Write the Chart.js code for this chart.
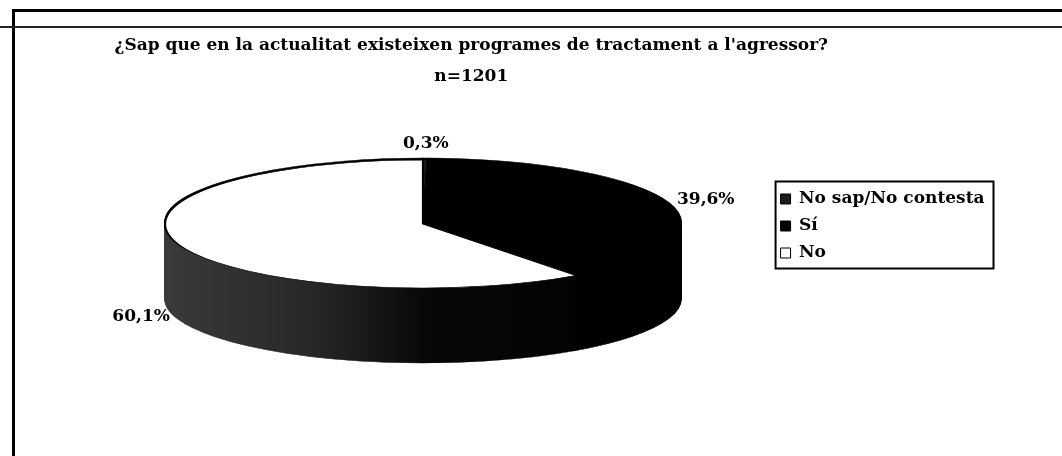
<!DOCTYPE html>
<html>
<head>
<meta charset="utf-8">
<script src="https://cdn.jsdelivr.net/npm/chart.js@4.4.0/dist/chart.umd.min.js"></script>
<style>
html, body { margin: 0; padding: 0; background: #fff; }
#wrap { position: relative; width: 1062px; height: 456px; overflow: hidden; background: #fff; }
#c { position: absolute; left: 0; top: 0; }
.frame { position: absolute; left: 12px; top: 9px; width: 1050px; height: 447px;
         border-left: 3px solid #000; border-top: 3px solid #000; box-sizing: border-box; }
.rule { position: absolute; left: 0; top: 26px; width: 1062px; height: 0; border-top: 2px solid #222; }
</style>
</head>
<body>
<div id="wrap">
  <canvas id="c" width="1062" height="456"></canvas>
  <div class="frame"></div>
  <div class="rule"></div>
</div>
<script>
// ---- data ----
const titleLines = ["¿Sap que en la actualitat existeixen programes de tractament a l'agressor?", "n=1201"];
const categories = ['No sap/No contesta', 'Sí', 'No'];
const percentages = [0.3, 39.6, 60.1];
const valueLabels = ['0,3%', '39,6%', '60,1%'];

// ---- styles ----
const faceColors = ['#1c1c1c', '#000000', '#ffffff'];
const sideColors = ['#111111', '#000000', null]; // null -> shaded gradient
// 3D projection layout (canvas px)
const PIE = { centerX: 423, centerY: 224, radiusX: 258, radiusY: 64, depth: 75 };
const SERIF = "'DejaVu Serif', 'Liberation Serif', serif";

function projection(chart) {
  const meta = chart.getDatasetMeta(0);
  const a0 = meta.data[0];
  const R = a0.outerRadius;
  return { meta, cx: a0.x, cy: a0.y, R, sx: PIE.radiusX / R, sy: PIE.radiusY / R,
           tx: PIE.centerX, ty: PIE.centerY };
}
function applyTransform(ctx, p, dy) {
  ctx.translate(p.tx, p.ty + dy);
  ctx.scale(p.sx, p.sy);
  ctx.translate(-p.cx, -p.cy);
}
function drawLayer(ctx, p, dy, colorFor) {
  ctx.save();
  applyTransform(ctx, p, dy);
  p.meta.data.forEach((arc, i) => {
    const c = colorFor(i);
    const tmp = Object.create(arc);
    tmp.options = Object.assign({}, arc.options, { backgroundColor: c, borderColor: c, borderWidth: 1 });
    tmp.draw(ctx);
  });
  ctx.restore();
}

const pie3d = {
  id: 'pie3d',
  beforeDatasetsDraw(chart) {
    const ctx = chart.ctx;
    const p = projection(chart);
    const grad = ctx.createLinearGradient(p.cx - p.R, 0, p.cx + p.R, 0);
    grad.addColorStop(0, '#3a3a3a');
    grad.addColorStop(0.3, '#262626');
    grad.addColorStop(0.5, '#080808');
    grad.addColorStop(1, '#000000');
    for (let k = PIE.depth; k >= 1; k--) {
      drawLayer(ctx, p, k, i => sideColors[i] || grad);
    }
    for (let k = -2; k <= -1; k++) {
      drawLayer(ctx, p, k, () => '#000000');
    }
    ctx.save();
    applyTransform(ctx, p, 0);
  },
  afterDatasetsDraw(chart) {
    const ctx = chart.ctx;
    ctx.restore();
    const p = projection(chart);
    ctx.save();
    ctx.font = 'bold 17px ' + SERIF;
    ctx.fillStyle = '#000';
    ctx.textAlign = 'center';
    ctx.textBaseline = 'middle';
    p.meta.data.forEach((arc, i) => {
      const mid = (arc.startAngle + arc.endAngle) / 2;
      const c = Math.cos(mid), s = Math.sin(mid);
      const x = p.tx + c * PIE.radiusX * 1.15;
      const y = p.ty + s * PIE.radiusY * 1.25 + (s > 0 ? PIE.depth * 0.9 : 0);
      ctx.fillText(valueLabels[i], x, y);
    });
    ctx.restore();
  },
  afterDraw(chart) {
    const hb = chart.legend && chart.legend.legendHitBoxes;
    if (!hb || !hb.length) return;
    let l = Infinity, t = Infinity, r = -Infinity, b = -Infinity;
    hb.forEach(h => { l = Math.min(l, h.left); t = Math.min(t, h.top);
      r = Math.max(r, h.left + h.width); b = Math.max(b, h.top + h.height); });
    const ctx = chart.ctx;
    ctx.save();
    ctx.strokeStyle = '#000';
    ctx.lineWidth = 2;
    ctx.strokeRect(l - 5, t - 9, r - l + 14, b - t + 16);
    ctx.restore();
  }
};

new Chart(document.getElementById('c'), {
  type: 'pie',
  data: {
    labels: categories,
    datasets: [{
      data: percentages,
      backgroundColor: faceColors,
      borderColor: '#000',
      borderWidth: 1.5,
      clip: false
    }]
  },
  options: {
    responsive: false,
    animation: false,
    events: [],
    layout: { padding: { left: -52, right: 67.5, top: 0, bottom: 4 } },
    plugins: {
      title: {
        display: true,
        text: titleLines,
        fullSize: true,
        color: '#000',
        font: { family: SERIF, weight: 'bold', size: 17, lineHeight: 1.824 },
        padding: { top: 30.5, bottom: 10 }
      },
      legend: {
        display: true,
        position: 'right',
        align: 'center',
        labels: {
          boxWidth: 10,
          boxHeight: 10,
          padding: 10,
          color: '#000',
          font: { family: SERIF, weight: 'bold', size: 17 },
          generateLabels: () => categories.map((c, i) => ({
            text: c, fillStyle: faceColors[i], strokeStyle: '#000', lineWidth: 1,
            hidden: false, index: i, fontColor: '#000'
          }))
        }
      },
      tooltip: { enabled: false }
    }
  },
  plugins: [pie3d]
});
</script>
</body>
</html>
